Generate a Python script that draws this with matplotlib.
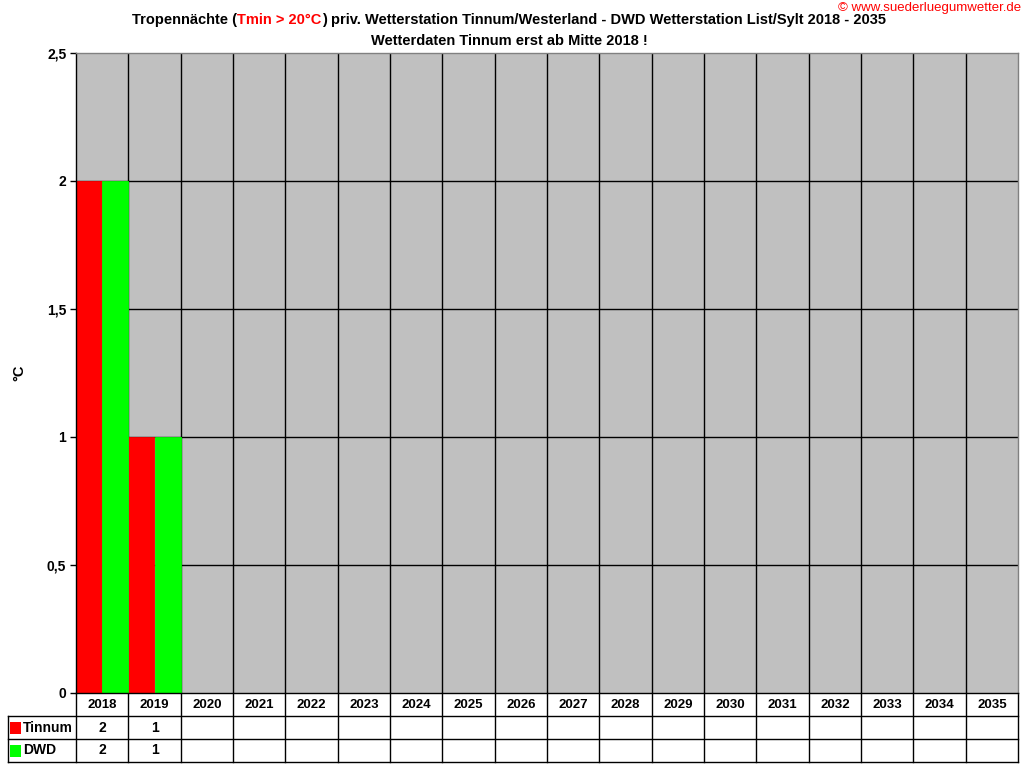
import matplotlib
matplotlib.use("Agg")
import matplotlib.pyplot as plt
from matplotlib.patches import Rectangle
from matplotlib.transforms import blended_transform_factory
import numpy as np

plt.rcParams['font.family'] = ['Liberation Sans', 'DejaVu Sans']

years = [str(y) for y in range(2018, 2036)]
tinnum = [2, 1] + [None] * 16
dwd = [2, 1] + [None] * 16
series_names = ["Tinnum", "DWD"]
series_colors = ["#FF0000", "#00FF00"]
yticks = [0, 0.5, 1, 1.5, 2, 2.5]
ytick_labels = ["0", "0,5", "1", "1,5", "2", "2,5"]

W, H = 1024, 768
fig = plt.figure(figsize=(W / 100, H / 100), dpi=100)
L, R, T, B = 76, 1018, 53, 693
ax = fig.add_axes([L / W, 1 - B / H, (R - L) / W, (B - T) / H])
ax.set_facecolor("#C0C0C0")

n = len(years)
x = np.arange(n)
bw = 0.5
for vals, off, col in [(tinnum, -0.25, series_colors[0]), (dwd, 0.25, series_colors[1])]:
    xs = [xi + off for xi, v in zip(x, vals) if v is not None]
    vs = [v for v in vals if v is not None]
    ax.bar(xs, vs, width=bw, color=col, edgecolor=col, linewidth=0.6, zorder=3)

ax.set_xlim(-0.5, n - 0.5)
ax.set_ylim(0, 2.5)
for yv in yticks[1:-1]:
    ax.axhline(yv, color="black", lw=1, zorder=2)
for i in range(1, n):
    ax.axvline(i - 0.5, color="black", lw=1, zorder=2)

ax.set_yticks(yticks)
ax.set_yticklabels(ytick_labels, fontsize=10, fontweight="bold")
ax.tick_params(axis="y", length=4, width=1, pad=3)
ax.set_xticks([])
ax.spines["left"].set_color("black")
ax.spines["bottom"].set_color("black")
ax.spines["top"].set_color("#808080")
ax.spines["right"].set_color("#808080")
for s in ax.spines.values():
    s.set_linewidth(1)
    s.set_zorder(4)
fig.text(19 / W, 1 - 373 / H, "°C", fontsize=10.5, fontweight="bold", rotation=90,
         ha="center", va="center")

# data table
ph = B - T
rowh = 23 / ph
trans = ax.get_xaxis_transform()
lw = 1
for i in range(n + 1):
    ax.plot([i - 0.5, i - 0.5], [0, -3 * rowh], transform=trans, color="black", lw=lw, clip_on=False)
for i, yr in enumerate(years):
    ax.text(i, -0.5 * rowh, yr, transform=trans, ha="center", va="center", fontsize=9.5, fontweight="bold")
tf = blended_transform_factory(fig.transFigure, ax.transAxes)
left_fig = 8 / W
right_fig = R / W
for k in [1, 2, 3]:
    ax.plot([left_fig, right_fig], [-k * rowh, -k * rowh], transform=tf, color="black", lw=lw, clip_on=False)
ax.plot([left_fig, left_fig], [-rowh, -3 * rowh], transform=tf, color="black", lw=lw, clip_on=False)
series_vals = [tinnum, dwd]
for r, (name, col, vals) in enumerate(zip(series_names, series_colors, series_vals)):
    yc = -(1.5 + r) * rowh
    ax.add_patch(Rectangle((10 / W, yc - 0.5 * 12 / ph), 11 / W, 12 / ph, transform=tf,
                           facecolor=col, edgecolor="none", clip_on=False))
    ax.text(23 / W, yc, name, transform=tf, ha="left", va="center", fontsize=10, fontweight="bold")
    for i, v in enumerate(vals):
        if v is not None:
            ax.text(i, yc, str(v), transform=trans, ha="center", va="center", fontsize=10, fontweight="bold")

# title with colored segment
fig.canvas.draw()
renderer = fig.canvas.get_renderer()
parts = [("Tropennächte (", "black"), ("Tmin > 20°C", "#FF0000"),
         (") priv. Wetterstation Tinnum/Westerland - DWD Wetterstation List/Sylt 2018 - 2035", "black")]
tfs = 10.5
texts = []
widths = []
for s, c in parts:
    t = fig.text(0, 0, s, fontsize=tfs, fontweight="bold", color=c)
    widths.append(t.get_window_extent(renderer).width)
    texts.append(t)
total = sum(widths)
cx = 509
xpos = cx - total / 2
for t, w in zip(texts, widths):
    t.set_position((xpos / W, 1 - 20 / H))
    t.set_va("center")
    xpos += w
fig.text(509 / W, 1 - 41 / H, "Wetterdaten Tinnum erst ab Mitte 2018 !", fontsize=tfs,
         fontweight="bold", ha="center", va="center")
fig.text(1021 / W, 1 - 8 / H, "© www.suederluegumwetter.de", fontsize=9.5, color="#FF0000",
         ha="right", va="center")

fig.savefig("out.png", dpi=100)
